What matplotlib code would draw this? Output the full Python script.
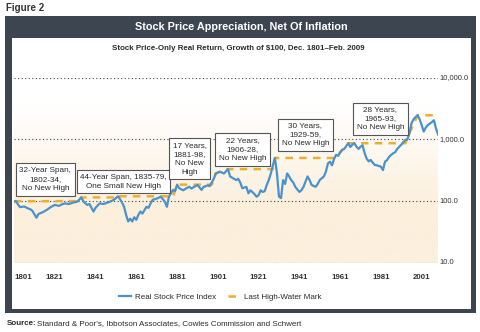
import numpy as np
import matplotlib.pyplot as plt
from matplotlib.patches import Rectangle
from matplotlib import font_manager

# real stock price index, growth of $100 (annual readings)
years = [1801, 1802, 1803, 1804, 1806, 1808, 1809, 1810, 1812, 1813, 1815, 1817,
         1819, 1821, 1823, 1825, 1826, 1828, 1830, 1832, 1834, 1835, 1836, 1837,
         1838, 1840, 1841, 1843, 1845, 1847, 1848, 1850, 1852, 1853, 1854, 1855,
         1856, 1857, 1858, 1859, 1860, 1861, 1862, 1863, 1864, 1866, 1867, 1868,
         1869, 1871, 1873, 1874, 1875, 1876, 1877, 1879, 1880, 1881, 1882, 1884,
         1886, 1887, 1888, 1890, 1891, 1893, 1894, 1896, 1897, 1899, 1900, 1902,
         1903, 1904, 1906, 1907, 1908, 1910, 1911, 1912, 1913, 1915, 1916, 1917,
         1919, 1920, 1921, 1922, 1923, 1924, 1925, 1926, 1927, 1928, 1929, 1930,
         1931, 1932, 1933, 1934, 1935, 1936, 1937, 1938, 1939, 1941, 1942, 1943,
         1945, 1946, 1947, 1948, 1949, 1950, 1951, 1953, 1954, 1955, 1956, 1957,
         1958, 1959, 1960, 1961, 1962, 1963, 1964, 1965, 1966, 1967, 1968, 1969,
         1970, 1971, 1972, 1973, 1974, 1975, 1976, 1977, 1978, 1979, 1980, 1981,
         1982, 1983, 1984, 1985, 1986, 1987, 1988, 1989, 1990, 1991, 1992, 1993,
         1994, 1995, 1996, 1997, 1998, 1999, 2000, 2001, 2002, 2003, 2004, 2005,
         2006, 2007, 2008, 2009]
index = [98, 100, 88, 80, 82, 76, 74, 70, 54, 62, 66, 72,
         80, 87, 84, 90, 92, 90, 95, 98, 115, 100, 92, 87,
         90, 68, 78, 92, 90, 95, 98, 105, 120, 108, 95, 81,
         60, 47, 52, 47, 55, 50, 60, 68, 63, 81, 78, 92,
         105, 110, 118, 108, 98, 81, 118, 152, 145, 185, 162, 150,
         165, 171, 160, 175, 183, 152, 170, 180, 175, 230, 281, 300,
         290, 280, 330, 251, 240, 219, 230, 200, 162, 170, 134, 150,
         130, 118, 125, 150, 141, 145, 183, 220, 281, 380, 500, 281,
         118, 112, 219, 190, 281, 250, 219, 200, 170, 141, 150, 170,
         251, 220, 183, 176, 171, 190, 220, 251, 300, 408, 434, 380,
         480, 562, 540, 620, 673, 700, 780, 866, 750, 820, 866, 760,
         700, 760, 800, 600, 488, 440, 464, 420, 385, 380, 370, 361,
         318, 434, 460, 520, 560, 595, 620, 700, 760, 820, 900, 977,
         1000, 1264, 1823, 2100, 2300, 2450, 2100, 1700, 1334, 1550, 1700, 1800,
         1900, 2040, 1500, 1200]

# last high-water mark, as corner points of the step line
hwm_years = [1801, 1834, 1834, 1852, 1852, 1879, 1881, 1898, 1900, 1906,
             1928, 1929, 1959, 1962, 1965, 1993, 1995, 1999, 2009]
hwm_values = [100, 100, 115, 115, 120, 120, 185, 185, 281, 330,
              330, 500, 500, 673, 866, 866, 1264, 2450, 2450]

tick_years = [1801, 1821, 1841, 1861, 1881, 1901, 1921, 1941, 1961, 1981, 2001]
grid_values = [10, 100, 1000, 10000]
grid_labels = ['10.0', '100.0', '1,000.0', '10,000.0']

# annotation boxes: (year, value, text)
notes = [
    (1816.4, 224, '32-Year Span,\n1802-34,\nNo New High'),
    (1854.7, 207, '44-Year Span, 1835-79,\nOne Small New High'),
    (1887.1, 485, '17 Years,\n1881-98,\nNo New\nHigh'),
    (1913.3, 687, '22 Years,\n1906-28,\nNo New High'),
    (1943.9, 1186, '30 Years,\n1929-59,\nNo New High'),
    (1980.7, 2137, '28 Years,\n1965-93,\nNo New High'),
]

names = {f.name for f in font_manager.fontManager.ttflist}
narrow = 'Liberation Sans Narrow' if 'Liberation Sans Narrow' in names else 'Liberation Sans'
plt.rcParams['font.family'] = [narrow, 'DejaVu Sans']

W, H = 480, 332
fig = plt.figure(figsize=(W / 100, H / 100), dpi=100)
fig.patch.set_facecolor('white')


def box(x0, y0, x1, y1, color, z=0):
    fig.patches.append(Rectangle((x0 / W, 1 - y1 / H), (x1 - x0) / W, (y1 - y0) / H,
                                 transform=fig.transFigure, facecolor=color,
                                 edgecolor='none', zorder=z))


frame = '#3d4650'
box(5, 16, 476, 313, frame)
box(12, 38, 471, 308.5, 'white', z=1)

dark = '#2a2a2a'
fig.text(6 / W, 1 - 8 / H, 'Figure 2', fontsize=7, fontweight='bold',
         color='#333333', va='center')
fig.text(241 / W, 1 - 27 / H, 'Stock Price Appreciation, Net Of Inflation',
         fontsize=7.8, fontweight='bold', color='white', ha='center', va='center')
fig.text(238 / W, 1 - 49 / H,
         'Stock Price-Only Real Return, Growth of $100, Dec. 1801\u2013Feb. 2009',
         fontsize=5.7, fontweight='bold', color=dark, ha='center', va='center',
         zorder=3)
src = fig.text(7 / W, 1 - 325 / H, 'Source:', fontsize=5.8, fontweight='bold',
               color=dark, va='baseline')
fig.canvas.draw()
bb = src.get_window_extent(renderer=fig.canvas.get_renderer())
fig.text(bb.x1 / W, 1 - 325 / H,
         "Standard & Poor's, Ibbotson Associates, Cowles Commission and Schwert",
         fontsize=5.8, color=dark, va='baseline')

ax = fig.add_axes([14 / W, 1 - 263 / H, 424 / W, 185.5 / H], zorder=2)
ax.set_facecolor('none')
ax.set_yscale('log')
ax.set_xlim(1801, 2009)
ax.set_ylim(10, 10000)

# peach wash fading out towards the top
grad = np.linspace(0, 1, 256).reshape(-1, 1)
grad = np.clip((grad - 0.3) / 0.55, 0, 1)
peach = np.array([252, 239, 220]) / 255
img = np.ones((256, 1, 3)) * peach + grad[..., None] * (1 - peach)
ax.imshow(img, extent=[0, 1, 0, 1], transform=ax.transAxes, origin='lower',
          aspect='auto', zorder=0)

for v in grid_values:
    ax.axhline(v, color='#444444', lw=0.8, ls=(0, (1, 2.2)), zorder=1)

ax.plot(hwm_years, hwm_values, color='#f2ac2e', lw=1.8, ls=(0, (3, 2.5)),
        label='Last High-Water Mark', zorder=3)
ax.plot(years, index, color='#4a92cc', lw=1.6, label='Real Stock Price Index',
        zorder=4)

for yr, v, txt in notes:
    ax.text(yr, v, txt, fontsize=5.9, color=dark, ha='center', va='center',
            linespacing=1.4, zorder=5,
            bbox=dict(boxstyle='square,pad=0.45', facecolor='white',
                      edgecolor='#555555', linewidth=0.8))

for v, lab in zip(grid_values, grid_labels):
    ax.text(1.004, v, lab, transform=ax.get_yaxis_transform(), fontsize=5.4,
            color='#333333', va='center', ha='left')

ax.set_xticks(tick_years)
ax.set_xticklabels([str(y) for y in tick_years], fontsize=5.7, fontweight='bold',
                   color='#333333')
ax.get_xticklabels()[0].set_horizontalalignment('left')
ax.tick_params(axis='x', length=0, pad=8)
ax.set_yticks([])
ax.yaxis.set_minor_locator(plt.NullLocator())
for s in ax.spines.values():
    s.set_visible(False)

handles, labels = ax.get_legend_handles_labels()
fig.legend(handles[::-1], labels[::-1], loc='center', bbox_to_anchor=(220 / W, 1 - 297 / H),
           ncol=2, frameon=False, fontsize=5.8, handlelength=1.6, handletextpad=0.4,
           columnspacing=1.5, labelcolor=dark)

fig.savefig('out.png', dpi=100)
